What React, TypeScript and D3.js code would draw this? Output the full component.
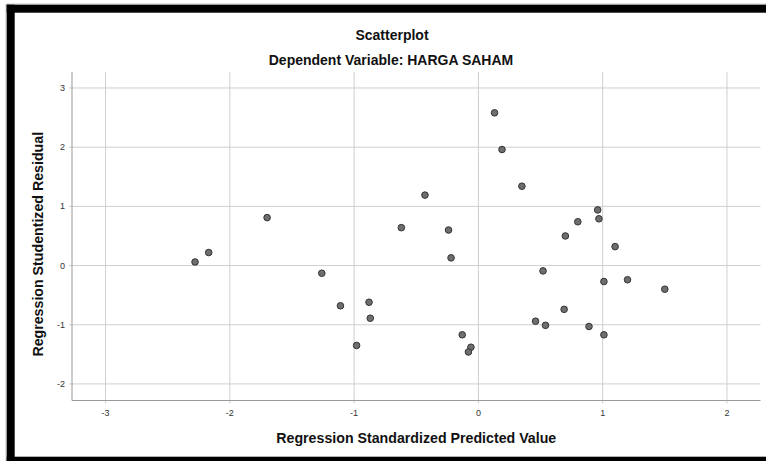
import React from "react";
import * as d3 from "d3";

const predicted = [
  -2.28, -2.17, -1.70, -1.26, -1.11, -0.98, -0.88, -0.87, -0.62, -0.43, -0.24,
  -0.22, -0.13, -0.06, -0.08, 0.13, 0.19, 0.35, 0.46, 0.52, 0.54, 0.70, 0.69,
  0.80, 0.89, 0.96, 0.97, 1.01, 1.01, 1.10, 1.20, 1.50,
];
const residual = [
  0.06, 0.22, 0.81, -0.13, -0.68, -1.35, -0.62, -0.89, 0.64, 1.19, 0.60,
  0.13, -1.17, -1.38, -1.46, 2.58, 1.96, 1.34, -0.94, -0.09, -1.01, 0.50, -0.74,
  0.74, -1.03, 0.94, 0.79, -0.27, -1.17, 0.32, -0.24, -0.40,
];
const xTicks = [-3, -2, -1, 0, 1, 2];
const yTicks = [-2, -1, 0, 1, 2, 3];
const title = "Scatterplot";
const subtitle = "Dependent Variable: HARGA SAHAM";
const xTitle = "Regression Standardized Predicted Value";
const yTitle = "Regression Studentized Residual";

export default function App() {
  const W = 766;
  const H = 461;
  const left = 72;
  const right = 760.5;
  const top = 72;
  const bottom = 400.5;
  const x = d3.scaleLinear().domain([-3.27, 2.27]).range([left, right]);
  const y = d3.scaleLinear().domain([-2.28, 3.27]).range([bottom, top]);
  const font = "'Liberation Sans', Arial, sans-serif";
  const points = predicted.map((p, i) => ({ p, r: residual[i] }));
  return (
    <svg
      width={W}
      height={H}
      style={{ position: "absolute", left: 0, top: 0, display: "block", overflow: "hidden" }}
      fontFamily={font}
    >
      <rect x={0} y={0} width={W} height={H} fill="#fff" />
      <line x1={6} y1={4} x2={W} y2={4} stroke="#c8c8c8" strokeWidth={1} />
      <line x1={6} y1={4} x2={6} y2={H} stroke="#c8c8c8" strokeWidth={1} />
      <rect x={6.7} y={4.7} width={W - 6.7} height={8} fill="#000" />
      <rect x={6.7} y={4.7} width={8} height={H - 4.7} fill="#000" />
      <rect x={6.7} y={456.7} width={W - 6.7} height={H - 456.7} fill="#000" />

      <text x={392} y={40} textAnchor="middle" fontSize={14} fontWeight="bold" fill="#111">
        {title}
      </text>
      <text x={391} y={65} textAnchor="middle" fontSize={14} fontWeight="bold" fill="#111">
        {subtitle}
      </text>

      {xTicks.map((t) => (
        <g key={"x" + t}>
          <line x1={x(t)} x2={x(t)} y1={top} y2={bottom + 3} stroke="#cfcfcf" strokeWidth={1} />
          <text x={x(t)} y={416} textAnchor="middle" fontSize={9} fill="#333">
            {t}
          </text>
        </g>
      ))}
      {yTicks.map((t) => (
        <g key={"y" + t}>
          <line x1={left - 3} x2={right} y1={y(t)} y2={y(t)} stroke="#cfcfcf" strokeWidth={1} />
          <text x={65} y={y(t) + 3} textAnchor="end" fontSize={9} fill="#333">
            {t}
          </text>
        </g>
      ))}
      <line x1={left} x2={left} y1={top} y2={bottom} stroke="#999" strokeWidth={1} />
      <line x1={left} x2={right} y1={bottom} y2={bottom} stroke="#999" strokeWidth={1} />

      {points.map((d, i) => (
        <circle
          key={i}
          cx={x(d.p)}
          cy={y(d.r)}
          r={3.3}
          fill="#6e6e6e"
          stroke="#333"
          strokeWidth={1}
        />
      ))}

      <text x={(left + right) / 2} y={443} textAnchor="middle" fontSize={14.2} fontWeight="bold" fill="#111">
        {xTitle}
      </text>
      <text
        transform={`translate(43, ${(top + bottom) / 2 + 8}) rotate(-90)`}
        textAnchor="middle"
        fontSize={14.2}
        fontWeight="bold"
        fill="#111"
      >
        {yTitle}
      </text>
    </svg>
  );
}
